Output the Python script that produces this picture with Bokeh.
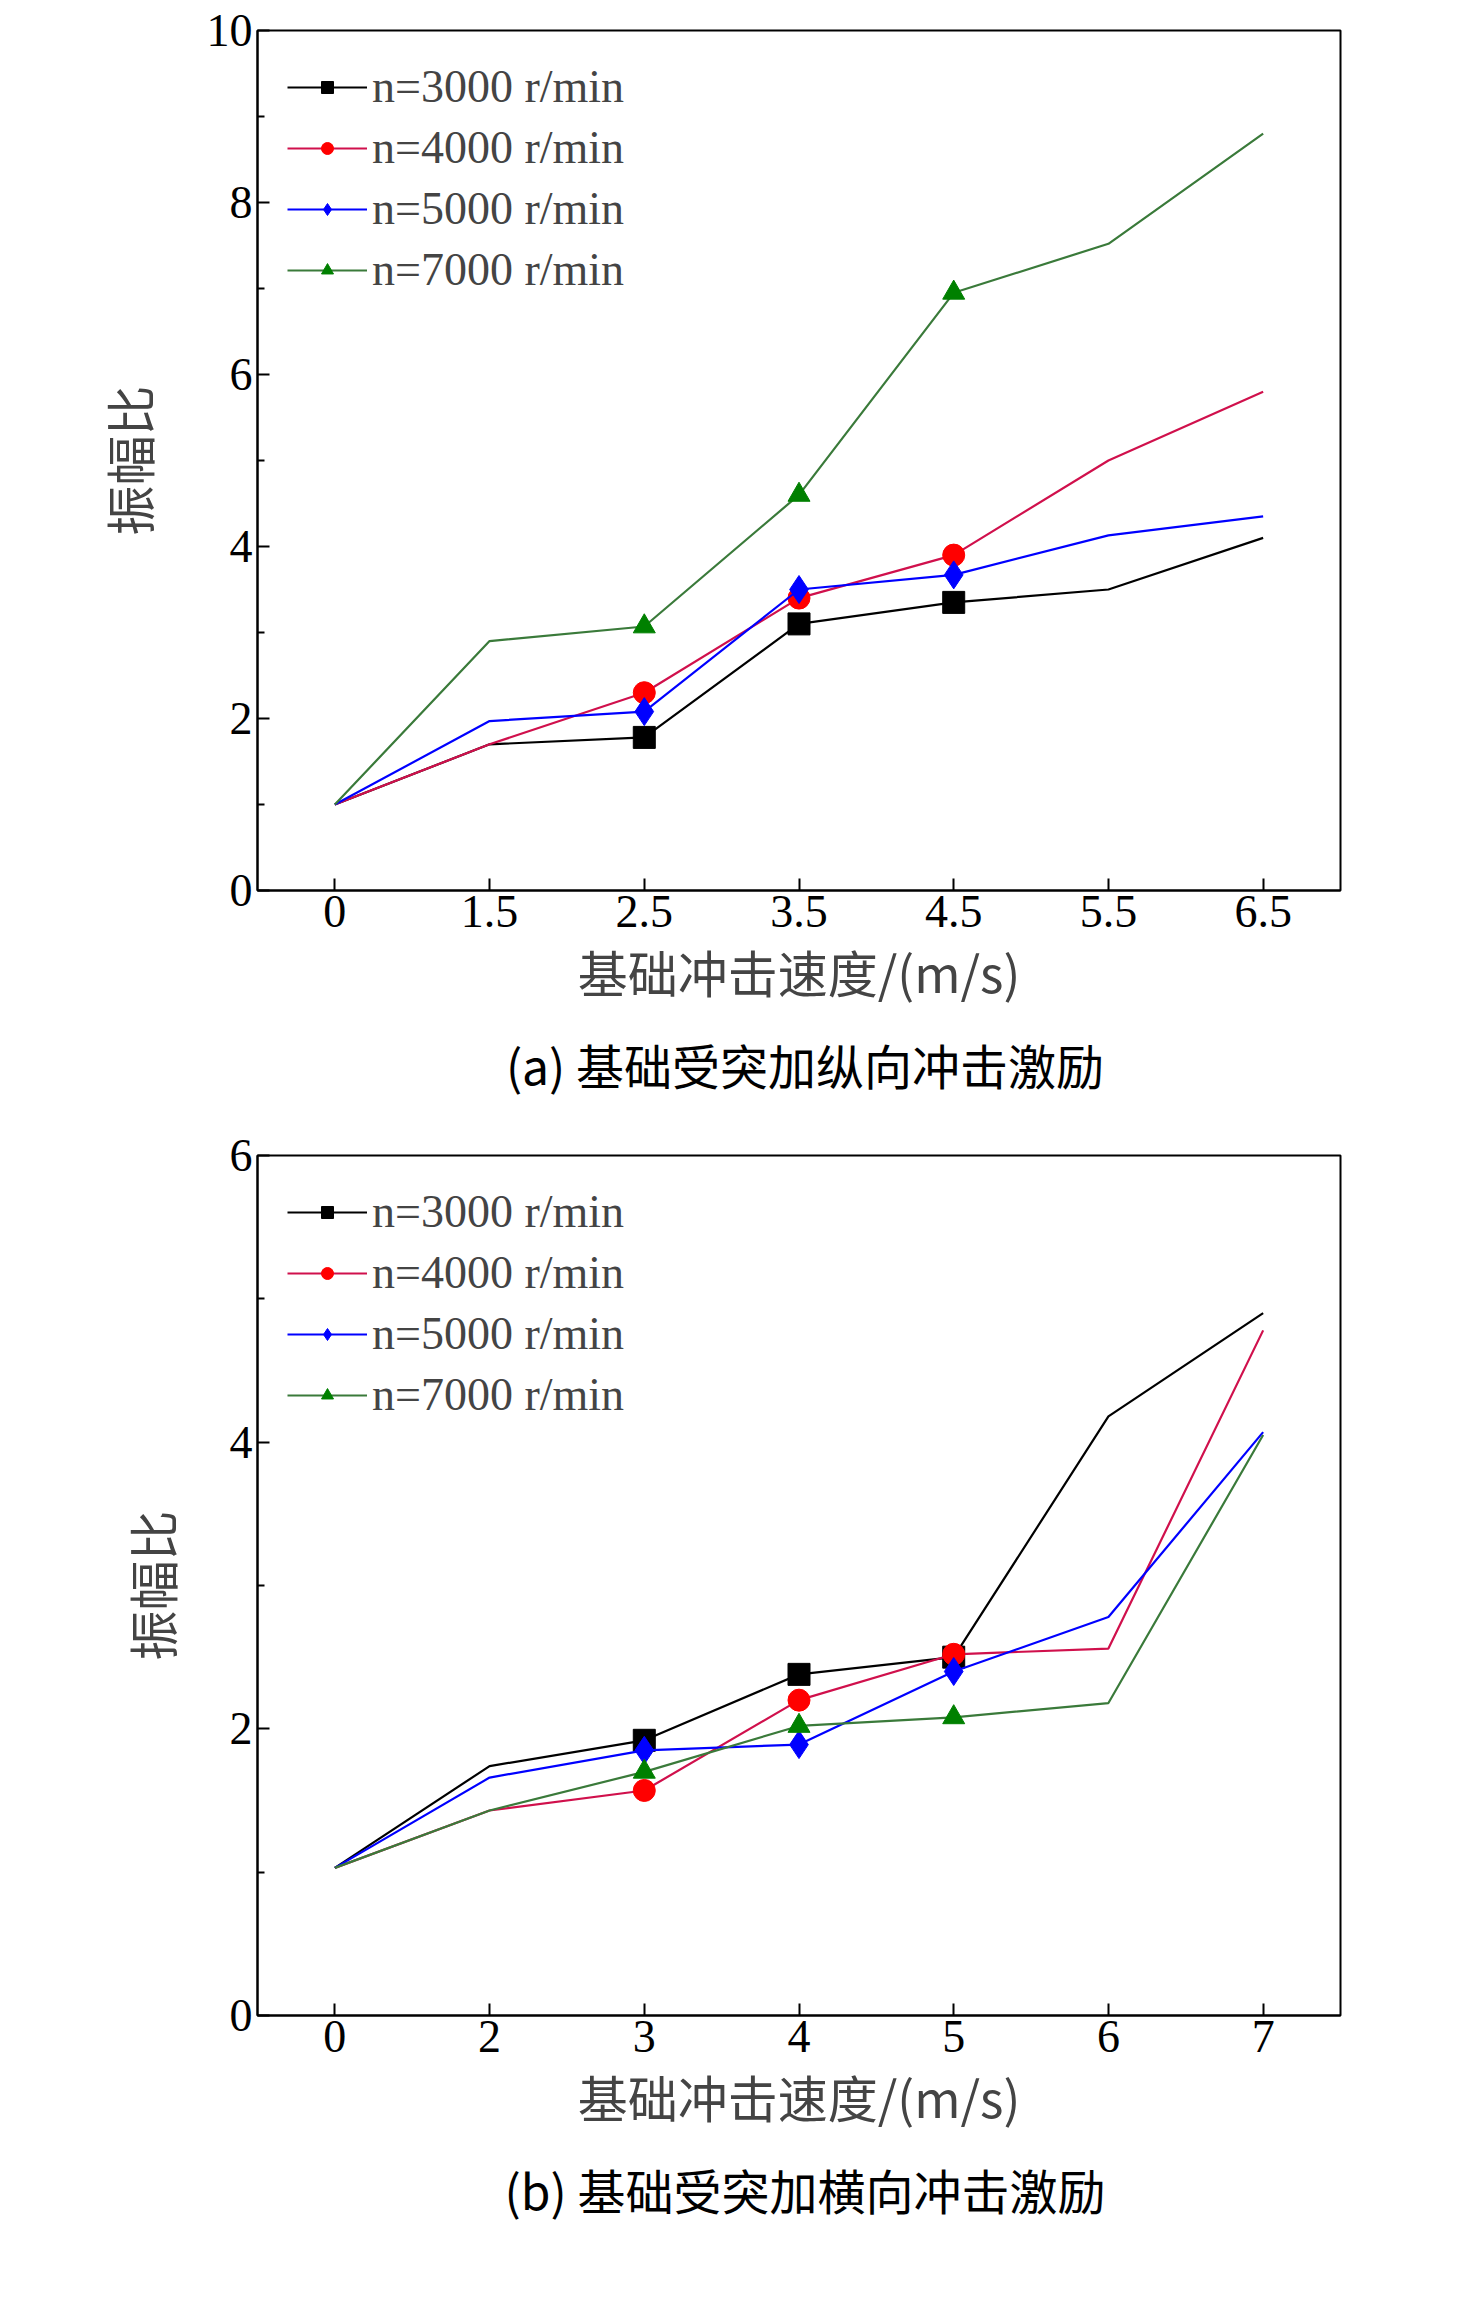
from bokeh.plotting import figure
from bokeh.layouts import column
from bokeh.models import Div, FixedTicker, Range1d
from bokeh.embed import file_html
from bokeh.resources import INLINE

# top chart (a)
labels_a = ["0", "1.5", "2.5", "3.5", "4.5", "5.5", "6.5"]
a_3000 = [1.0, 1.7, 1.78, 3.1, 3.35, 3.5, 4.1]
a_4000 = [1.0, 1.7, 2.3, 3.4, 3.9, 5.0, 5.8]
a_5000 = [1.0, 1.97, 2.08, 3.5, 3.67, 4.13, 4.35]
a_7000 = [1.0, 2.9, 3.07, 4.6, 6.95, 7.52, 8.8]

# bottom chart (b)
labels_b = ["0", "2", "3", "4", "5", "6", "7"]
b_3000 = [1.03, 1.74, 1.92, 2.38, 2.5, 4.18, 4.9]
b_4000 = [1.03, 1.43, 1.57, 2.2, 2.52, 2.56, 4.78]
b_5000 = [1.03, 1.66, 1.85, 1.89, 2.4, 2.78, 4.07]
b_7000 = [1.03, 1.43, 1.7, 2.02, 2.08, 2.18, 4.05]

names = ["n=3000 r/min", "n=4000 r/min", "n=5000 r/min", "n=7000 r/min"]
colors = ["black", "red", "blue", "green"]
line_colors = ["black", "#d0104c", "blue", "#3a7a3a"]
markers = ["square", "circle", "diamond", "triangle"]
marker_idx = [2, 3, 4]

SERIF = "Liberation Serif"
CJK = "Noto Sans CJK SC"
FS = "46px"


def make_plot(labels, series, ymax, yticks, top_border):
    p = figure(frame_width=1083, frame_height=860, output_backend="svg",
               toolbar_location=None, min_border_left=257, min_border_right=110,
               min_border_top=top_border, min_border_bottom=140,
               x_range=Range1d(-0.5, 6.5), y_range=Range1d(0, ymax))
    x = list(range(len(labels)))
    for ys, name, c, lc, m in zip(series, names, colors, line_colors, markers):
        p.line(x, ys, color=lc, line_width=2.2, legend_label=name)
        p.scatter([x[i] for i in marker_idx], [ys[i] for i in marker_idx],
                  marker=m, size=22 if m != "diamond" else 28, color=c,
                  legend_label=name)
    p.xgrid.visible = False
    p.ygrid.visible = False
    p.outline_line_color = "black"
    p.outline_line_width = 2
    p.xaxis.ticker = FixedTicker(ticks=x)
    p.xaxis.major_label_overrides = {i: l for i, l in enumerate(labels)}
    p.yaxis.ticker = FixedTicker(ticks=yticks,
                                 minor_ticks=[t + (yticks[1] - yticks[0]) / 2 for t in yticks[:-1]])
    for ax in (p.xaxis, p.yaxis):
        ax.major_tick_in = 12
        ax.major_tick_out = 0
        ax.minor_tick_in = 7
        ax.minor_tick_out = 0
        ax.axis_line_width = 2
        ax.major_tick_line_width = 2
        ax.minor_tick_line_width = 2
        ax.major_label_text_font = SERIF
        ax.major_label_text_font_size = FS
        ax.major_label_text_color = "black"
        ax.axis_label_text_font = CJK
        ax.axis_label_text_font_size = "50px"
        ax.axis_label_text_font_style = "normal"
    p.xaxis.minor_tick_in = 0
    p.xaxis.axis_label = "基础冲击速度/(m/s)"
    p.yaxis.axis_label = "振幅比"
    p.yaxis.axis_label_standoff = 40
    p.legend.location = "top_left"
    p.legend.border_line_alpha = 0
    p.legend.background_fill_alpha = 0
    p.legend.label_text_font = SERIF
    p.legend.label_text_font_size = FS
    p.legend.glyph_width = 80
    p.legend.glyph_height = 30
    p.legend.spacing = 8
    p.legend.padding = 20
    p.legend.margin = 10
    p.legend.label_height = 50
    return p


pa = make_plot(labels_a, [a_3000, a_4000, a_5000, a_7000], 10, [0, 2, 4, 6, 8, 10], 30)
pb = make_plot(labels_b, [b_3000, b_4000, b_5000, b_7000], 6, [0, 2, 4, 6], 30)

cap_style = {"font-family": CJK, "font-size": "48px", "text-align": "center"}
cap_a = Div(text="(a) 基础受突加纵向冲击激励", width=1460, height=90,
            styles=dict(cap_style, **{"padding-left": "140px", "margin-top": "0px"}))
cap_b = Div(text="(b) 基础受突加横向冲击激励", width=1460, height=80,
            styles=dict(cap_style, **{"padding-left": "140px", "margin-top": "0px"}))

layout = column(pa, cap_a, pb, cap_b, spacing=0)
open("out.html", "w").write(file_html(layout, INLINE))
